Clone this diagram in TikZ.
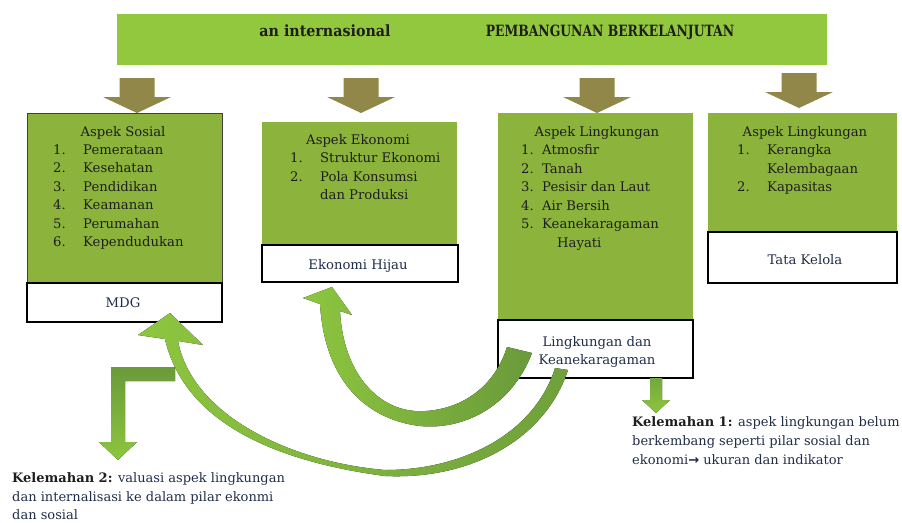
\documentclass[tikz,border=0pt]{standalone}
\usepackage{fontspec}
\setmainfont{DejaVu Serif}
\newfontfamily\bannerfontA{DejaVu Serif}[FakeStretch=0.92]
\newfontfamily\bannerfontB{DejaVu Serif}[FakeStretch=0.80]
\newfontfamily\symfnt{DejaVu Sans}
\definecolor{bannergreen}{HTML}{92C83E}
\definecolor{boxgreen}{HTML}{8CB43C}
\definecolor{brownarr}{HTML}{918749}
\definecolor{lightg}{HTML}{8DC63F}
\definecolor{darkg}{HTML}{6A9A3A}
\definecolor{txtdark}{HTML}{1E1E1E}
\definecolor{txtnavy}{HTML}{1F2D4A}
\tikzset{
  gbox/.style={fill=boxgreen, inner sep=0pt},
  wbox/.style={fill=white, draw=black, line width=2.2pt, inner sep=0pt},
  body/.style={inner sep=0pt, font=\fontsize{13.2}{15}\selectfont, text=txtdark},
  lbl/.style={inner sep=0pt, font=\fontsize{13.2}{15}\selectfont, text=txtnavy, anchor=base},
  banta/.style={inner sep=0pt, font=\bannerfontA\bfseries\fontsize{15.5}{17}\selectfont, text=txtdark, anchor=base},
  bantb/.style={inner sep=0pt, font=\bannerfontB\bfseries\fontsize{15.5}{17}\selectfont, text=txtdark, anchor=base},
  note/.style={inner sep=0pt, font=\fontsize{13}{15}\selectfont, text=txtnavy, anchor=base west},
  item/.style={body, anchor=base west},
  ttl/.style={body, anchor=base},
  brownfill/.style={fill=brownarr},
}
\newcommand\brownarrow[4]{%
  \fill[brownfill] (#1-17.5,#2) -- (#1+17.5,#2) -- (#1+17.5,#3) -- (#1+34,#3)
    -- (#1,#4) -- (#1-34,#3) -- (#1-17.5,#3) -- cycle;}
\begin{document}
\begin{tikzpicture}[x=1pt,y=-1pt]
\useasboundingbox (0,0) rectangle (902,522);
% banner
\node[fill=bannergreen, minimum width=710pt, minimum height=51pt, inner sep=0pt] (banner) at (472,39.5) {};
\node[banta] (bt1) at (325,36.5) {an internasional};
\node[bantb] (bt2) at (610,36.5) {PEMBANGUNAN BERKELANJUTAN};
% brown arrows
\brownarrow{137}{78}{97}{113}
\brownarrow{361}{78}{97}{113}
\brownarrow{597}{78}{97}{113}
\brownarrow{799}{73}{92}{108}
% boxes
\node[gbox, draw=black!75, line width=0.7pt, minimum width=195pt, minimum height=170pt] (soc) at (124.5,198) {};
\node[wbox, minimum width=195pt, minimum height=39pt] (mdg) at (124.5,302.5) {};
\node[gbox, minimum width=195pt, minimum height=123pt] (eko) at (359.5,183.5) {};
\node[wbox, minimum width=196pt, minimum height=37pt] (hij) at (360,263.5) {};
\node[gbox, minimum width=195pt, minimum height=207pt] (lin) at (595.5,216.5) {};
\node[wbox, minimum width=195pt, minimum height=58pt] (kea) at (595.5,349) {};
\node[gbox, minimum width=189pt, minimum height=119pt] (gov) at (802.5,172.5) {};
\node[wbox, minimum width=189pt, minimum height=51pt] (tk) at (802.5,257.5) {};
% box 1 text
\node[ttl] (s0) at (123,136) {Aspek Sosial};
\node[item] (s1n) at (53,154.5) {1.};  \node[item] (s1) at (83,154.5) {Pemerataan};
\node[item] (s2n) at (53,172.9) {2.};  \node[item] (s2) at (83,172.9) {Kesehatan};
\node[item] (s3n) at (53,191.3) {3.};  \node[item] (s3) at (83,191.3) {Pendidikan};
\node[item] (s4n) at (53,209.7) {4.};  \node[item] (s4) at (83,209.7) {Keamanan};
\node[item] (s5n) at (53,228.1) {5.};  \node[item] (s5) at (83,228.1) {Perumahan};
\node[item] (s6n) at (53,246.5) {6.};  \node[item] (s6) at (83,246.5) {Kependudukan};
\node[lbl] (mdgt) at (123,307.5) {MDG};
% box 2 text
\node[ttl] (e0) at (358,144) {Aspek Ekonomi};
\node[item] (e1n) at (290,162.5) {1.}; \node[item] (e1) at (320,162.5) {Struktur Ekonomi};
\node[item] (e2n) at (290,181) {2.};   \node[item] (e2) at (320,181) {Pola Konsumsi};
\node[item] (e2b) at (320,199.5) {dan Produksi};
\node[lbl] (hijt) at (358,269.5) {Ekonomi Hijau};
% box 3 text
\node[ttl] (l0) at (597,136) {Aspek Lingkungan};
\node[item] (l1n) at (521,154.5) {1.}; \node[item] (l1) at (542,154.5) {Atmosfir};
\node[item] (l2n) at (521,173) {2.};   \node[item] (l2) at (542,173) {Tanah};
\node[item] (l3n) at (521,191.5) {3.}; \node[item] (l3) at (542,191.5) {Pesisir dan Laut};
\node[item] (l4n) at (521,210) {4.};   \node[item] (l4) at (542,210) {Air Bersih};
\node[item] (l5n) at (521,228.5) {5.}; \node[item] (l5) at (542,228.5) {Keanekaragaman};
\node[item] (l5b) at (557,247) {Hayati};
\node[lbl] (keat1) at (597,346) {Lingkungan dan};
\node[lbl] (keat2) at (597,364) {Keanekaragaman};
% box 4 text
\node[ttl] (g0) at (805,136) {Aspek Lingkungan};
\node[item] (g1n) at (737,154.5) {1.}; \node[item] (g1) at (767,154.5) {Kerangka};
\node[item] (g1b) at (767,173) {Kelembagaan};
\node[item] (g2n) at (737,191.5) {2.}; \node[item] (g2) at (767,191.5) {Kapasitas};
\node[lbl] (tkt) at (805,264.5) {Tata Kelola};
% notes
\node[note] (k1a) at (632,426) {\textbf{\color{txtdark}Kelemahan 1:} aspek lingkungan belum};
\node[note] (k1b) at (632,445) {berkembang seperti pilar sosial dan};
\node[note] (k1c) at (632,464) {ekonomi{\symfnt\bfseries →} ukuran dan indikator};
\node[note] (k2a) at (12,482) {\textbf{\color{txtdark}Kelemahan 2:} valuasi aspek lingkungan};
\node[note] (k2b) at (12,501) {dan internalisasi ke dalam pilar ekonmi};
\node[note] (k2c) at (12,519) {dan sosial};
% green arrows
\fill[left color=lightg, right color=darkg]
 (532,353) .. controls (510,410) and (460,430) .. (420,426)
 .. controls (370,420) and (325,385) .. (320,304)
 -- (303,298) -- (332,287) -- (352,315) -- (340,311)
 .. controls (343,370) and (375,408) .. (415,411)
 .. controls (450,413) and (492,395) .. (507,347) -- cycle;
\fill[left color=lightg, right color=darkg!85!lightg]
 (568,370) .. controls (545,440) and (470,480) .. (385,476)
 .. controls (280,462) and (185,425) .. (165,339)
 -- (138,335) -- (170,313) -- (203,345) -- (178,341)
 .. controls (192,415) and (290,462) .. (385,470)
 .. controls (465,470) and (535,432) .. (555,368) -- cycle;
\fill[top color=darkg, bottom color=lightg]
 (175,367) -- (111,367) -- (111,442) -- (99,442) -- (118,460) -- (137,442)
 -- (125,442) -- (125,381) -- (175,381) -- cycle;
\fill[top color=darkg!70!lightg, bottom color=lightg]
 (650,378) -- (662,378) -- (662,400) -- (670,400) -- (656,413) -- (642,400)
 -- (650,400) -- cycle;
\end{tikzpicture}
\end{document}
